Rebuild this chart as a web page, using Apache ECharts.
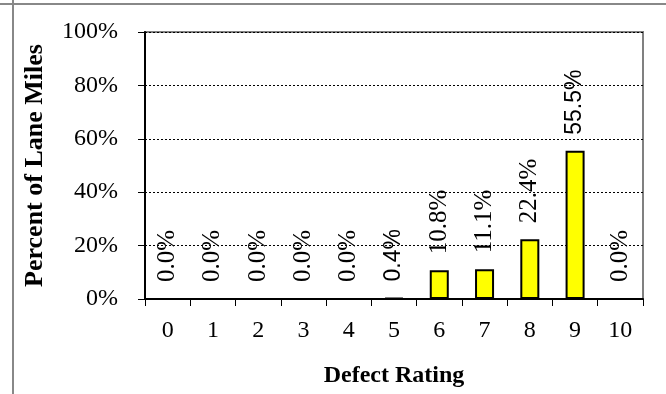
<!DOCTYPE html>
<html><head><meta charset="utf-8">
<script src="https://cdn.jsdelivr.net/npm/echarts@6/dist/echarts.min.js"></script>
<style>html,body{margin:0;padding:0;background:#fff;overflow:hidden}#c{width:666px;height:394px;position:relative}
.fl{position:absolute;background:#888;pointer-events:none}</style>
</head><body><div id="c"></div>
<div class="fl" style="left:0;top:3px;width:666px;height:2px"></div>
<div class="fl" style="left:12px;top:0;width:1.5px;height:394px"></div>
<script>
var categories = ['0','1','2','3','4','5','6','7','8','9','10'];
var values = [0.0, 0.0, 0.0, 0.0, 0.0, 0.4, 10.8, 11.1, 22.4, 55.5, 0.0];
var yTicks = [0, 20, 40, 60, 80, 100];
var F = 'Liberation Serif, Times New Roman, serif';
var FS = 'Liberation Sans, Arial, sans-serif';
// labels at these category indices are drawn in a sans-serif face in the original
var sansIdx = [5, 9];
var seriesData = values.map(function(v, i){
  var item = {value: v};
  if (sansIdx.indexOf(i) >= 0) item.label = {fontFamily: FS, fontSize: 23};
  return item;
});
var chart = echarts.init(document.getElementById('c'));
chart.setOption({
  animation: false,
  grid: {left: 145, right: 23, top: 32, bottom: 95, show: true, borderColor: '#808080', borderWidth: 2, backgroundColor: 'transparent'},
  xAxis: {
    type: 'category', data: categories,
    name: 'Defect Rating', nameLocation: 'middle', nameGap: 65,
    nameTextStyle: {fontFamily: F, fontWeight: 'bold', fontSize: 24, color: '#000'},
    axisLine: {lineStyle: {color: '#000', width: 2}},
    axisTick: {show: true, length: 7, lineStyle: {color: '#000', width: 1}},
    axisLabel: {fontFamily: F, fontSize: 24, color: '#000', margin: 20}
  },
  yAxis: {
    type: 'value', min: 0, max: 100, interval: 20,
    name: 'Percent of Lane Miles', nameLocation: 'middle', nameGap: 97,
    nameTextStyle: {fontFamily: F, fontWeight: 'bold', fontSize: 26, color: '#000'},
    axisLine: {show: true, lineStyle: {color: '#000', width: 2}},
    axisTick: {show: true, length: 7, lineStyle: {color: '#000', width: 1}},
    axisLabel: {fontFamily: F, fontSize: 24, color: '#000', margin: 27,
      formatter: function(v){ return yTicks.indexOf(v) >= 0 ? v + '%' : ''; }},
    splitLine: {show: true, lineStyle: {color: '#000', type: [2, 2], width: 1}}
  },
  series: [{
    type: 'bar', data: seriesData, barWidth: '42%',
    itemStyle: {color: '#ffff00', borderColor: '#000', borderWidth: 2},
    label: {show: true, position: 'top', rotate: 90, align: 'left', verticalAlign: 'middle', distance: 16,
      fontFamily: F, fontSize: 25, color: '#000',
      formatter: function(p){ return p.value.toFixed(1) + '%'; }}
  }]
});
</script></body></html>
